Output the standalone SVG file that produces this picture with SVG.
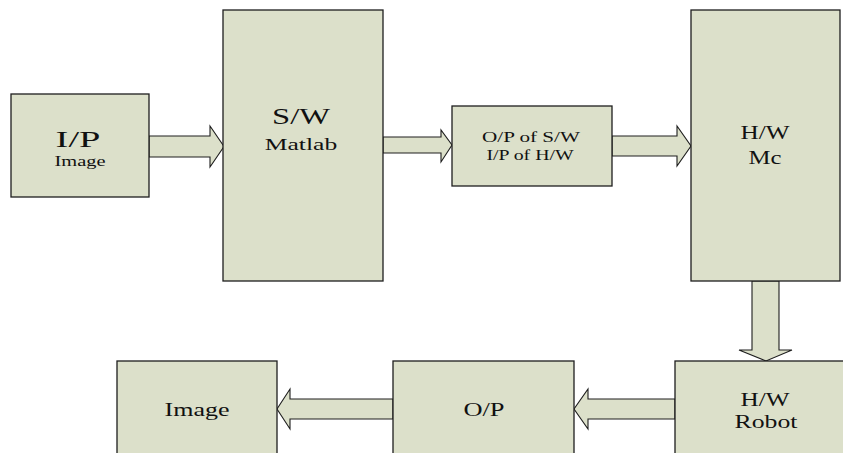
<svg xmlns="http://www.w3.org/2000/svg" width="843" height="453" viewBox="0 0 843 453">
<style>
.box{fill:#DCE0CA;stroke:#1e1e1e;stroke-width:1.3}
.arr{fill:#DCE0CA;stroke:#1e1e1e;stroke-width:1.1;stroke-linejoin:miter}
text{font-family:"Liberation Serif","Times New Roman",serif;fill:#111;text-anchor:middle}
</style>
<rect width="843" height="453" fill="#fff"/>
<g id="connectors">
<polygon class="arr" points="149,136 210,136 210,126 224,146.5 210,167 210,157 149,157"/>
<polygon class="arr" points="383,137 441,137 441,130 452,145 441,162 441,153 383,153"/>
<polygon class="arr" points="612,136 677,136 677,126 691,146 677,166 677,156 612,156"/>
<polygon class="arr" points="752,281 779,281 779,350 792,350 766,361 739,350 752,350"/>
<polygon class="arr" points="675,399 588,399 588,389 574,409 588,429 588,419 675,419"/>
<polygon class="arr" points="393,399 290,399 290,389 277,409 290,429 290,419 393,419"/>
</g>
<g id="ip">
<rect class="box" x="11" y="94" width="138" height="103"/>
<text transform="translate(78,147) scale(1.6,1)" font-size="24">I/P</text>
<text transform="translate(80,166) scale(1.46,1)" font-size="14">Image</text>
</g>
<g id="sw">
<rect class="box" x="223" y="10" width="160" height="271"/>
<text transform="translate(301,124) scale(1.36,1)" font-size="24">S/W</text>
<text transform="translate(301,150) scale(1.6,1)" font-size="16">Matlab</text>
</g>
<g id="mid">
<rect class="box" x="452" y="106" width="160" height="80"/>
<text transform="translate(531,142) scale(1.41,1)" font-size="15">O/P of S/W</text>
<text transform="translate(530,160) scale(1.32,1)" font-size="15">I/P of H/W</text>
</g>
<g id="mc">
<rect class="box" x="691" y="10" width="149" height="271"/>
<text transform="translate(765,139) scale(1.4,1)" font-size="18">H/W</text>
<text transform="translate(765,164) scale(1.375,1)" font-size="18">Mc</text>
</g>
<g id="robot">
<rect class="box" x="675" y="361" width="180" height="110"/>
<text transform="translate(765,406) scale(1.4,1)" font-size="18">H/W</text>
<text transform="translate(766,428) scale(1.43,1)" font-size="18">Robot</text>
</g>
<g id="op">
<rect class="box" x="393" y="361" width="181" height="110"/>
<text transform="translate(484,416) scale(1.39,1)" font-size="19">O/P</text>
</g>
<g id="image">
<rect class="box" x="117" y="361" width="160" height="110"/>
<text transform="translate(197,416) scale(1.37,1)" font-size="19">Image</text>
</g>
</svg>
